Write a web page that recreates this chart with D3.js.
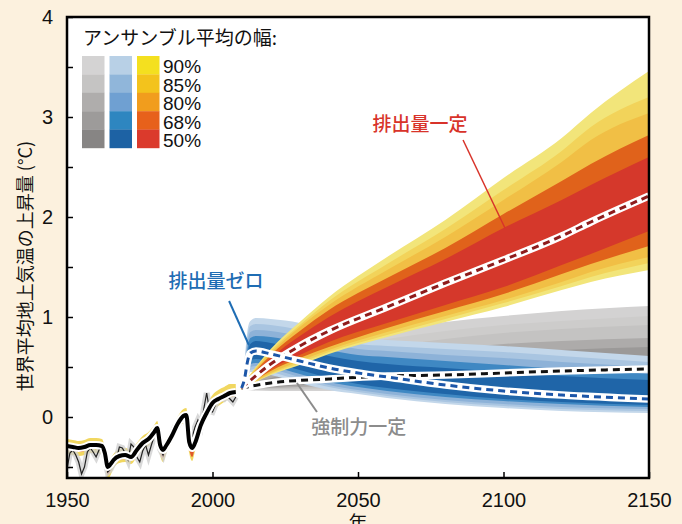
<!DOCTYPE html>
<html>
<head>
<meta charset="utf-8">
<title>世界平均地上気温の上昇量</title>
<script src="https://d3js.org/d3.v7.min.js"></script>
<style>
  body { margin: 0; background: #fcf1de; }
  text { font-family: "Liberation Sans", Arial, "Noto Sans CJK JP", sans-serif; }
  .jp { font-family: "Noto Sans CJK JP", sans-serif; }
</style>
</head>
<body>
<div id="chart"></div>
<script>
// ---- data ----
const xTicks = [1950, 2000, 2050, 2100, 2150];
const yTicks = [-0.5, 0, 0.5, 1, 1.5, 2, 2.5, 3, 3.5, 4];
const levels = ["90%", "85%", "80%", "68%", "50%"];

// historical ensemble mean and its spread
const histYears = [1950,1952,1954,1956,1958,1960,1962,1963,1964,1965,1966,1968,1970,1972,1974,1976,1978,1980,1981,1982,1983,1984,1986,1988,1990,1991,1992,1993,1994,1996,1998,2000,2002,2004,2006,2008];
const histMean  = [-0.29,-0.30,-0.31,-0.30,-0.28,-0.28,-0.29,-0.36,-0.50,-0.47,-0.43,-0.39,-0.38,-0.40,-0.33,-0.26,-0.22,-0.15,-0.11,-0.28,-0.33,-0.29,-0.19,-0.07,0.01,0.02,-0.25,-0.31,-0.26,-0.08,0.04,0.14,0.18,0.21,0.24,0.25];
const histHi    = [-0.22,-0.23,-0.24,-0.23,-0.21,-0.21,-0.22,-0.30,-0.44,-0.41,-0.37,-0.32,-0.31,-0.33,-0.26,-0.19,-0.15,-0.08,-0.04,-0.21,-0.26,-0.22,-0.12,0.00,0.08,0.09,-0.18,-0.24,-0.19,0.00,0.12,0.22,0.27,0.30,0.33,0.33];
const histLo    = [-0.37,-0.38,-0.39,-0.38,-0.36,-0.36,-0.37,-0.45,-0.62,-0.58,-0.51,-0.46,-0.45,-0.47,-0.40,-0.33,-0.29,-0.22,-0.18,-0.38,-0.45,-0.37,-0.26,-0.14,-0.06,-0.05,-0.36,-0.44,-0.34,-0.15,-0.03,0.07,0.11,0.15,0.19,0.21];
const histRedLo = [-0.33,-0.34,-0.35,-0.34,-0.32,-0.32,-0.33,-0.41,-0.58,-0.53,-0.47,-0.43,-0.42,-0.44,-0.37,-0.30,-0.26,-0.19,-0.15,-0.34,-0.41,-0.33,-0.23,-0.11,-0.03,-0.02,-0.32,-0.40,-0.30,-0.12,0.00,0.10,0.14,0.17,0.20,0.21];

// observations (annual)
const obsYears = d3.range(1950, 2009);
const obsVals = [-0.52,-0.36,-0.33,-0.38,-0.45,-0.57,-0.50,-0.35,-0.31,-0.35,-0.40,-0.33,-0.31,-0.40,-0.55,-0.52,-0.46,-0.42,-0.30,-0.31,-0.36,-0.43,-0.27,-0.30,-0.40,-0.45,-0.34,-0.28,-0.38,-0.28,-0.19,-0.15,-0.32,-0.38,-0.28,-0.25,-0.18,-0.10,-0.09,-0.02,0.00,-0.06,-0.22,-0.20,-0.10,-0.03,-0.09,0.08,0.24,0.06,0.05,0.12,0.17,0.19,0.18,0.21,0.18,0.15,0.20];

// constant emissions (排出量一定)
const emitYears = [2010, 2020, 2030, 2040, 2060, 2080, 2100, 2120, 2130, 2150];
const emitMean  = [0.29, 0.53, 0.71, 0.86, 1.10, 1.34, 1.57, 1.81, 1.95, 2.21];
const emit90 = [[0.27,0.31],[0.42,0.68],[0.52,0.95],[0.63,1.20],[0.80,1.60],[0.95,1.97],[1.10,2.39],[1.27,2.79],[1.35,3.04],[1.47,3.46]];
const emit85 = [[0.27,0.31],[0.43,0.66],[0.54,0.92],[0.65,1.16],[0.82,1.53],[0.98,1.88],[1.14,2.27],[1.31,2.66],[1.40,2.90],[1.54,3.20]];
const emit80 = [[0.28,0.31],[0.44,0.64],[0.56,0.90],[0.67,1.12],[0.85,1.47],[1.01,1.80],[1.17,2.17],[1.35,2.55],[1.45,2.77],[1.60,3.04]];
const emit68 = [[0.28,0.30],[0.46,0.62],[0.59,0.86],[0.70,1.07],[0.89,1.39],[1.06,1.69],[1.23,2.03],[1.43,2.36],[1.53,2.53],[1.71,2.82]];
const emit50 = [[0.28,0.30],[0.48,0.59],[0.62,0.81],[0.75,1.00],[0.94,1.30],[1.12,1.58],[1.30,1.89],[1.52,2.17],[1.63,2.32],[1.86,2.60]];

// zero emissions (排出量ゼロ)
const zeroYears = [2010, 2011, 2012, 2013, 2015, 2020, 2030, 2040, 2050, 2060, 2080, 2100, 2120, 2150];
const zeroMean  = [0.29, 0.38, 0.55, 0.64, 0.66, 0.63, 0.56, 0.49, 0.44, 0.40, 0.32, 0.26, 0.22, 0.18];
const zero90 = [[0.27,0.31],[0.29,0.56],[0.38,0.86],[0.45,0.96],[0.45,0.99],[0.42,0.98],[0.34,0.94],[0.27,0.85],[0.23,0.79],[0.19,0.77],[0.13,0.74],[0.09,0.71],[0.06,0.67],[0.04,0.61]];
const zero85 = [[0.27,0.31],[0.30,0.53],[0.40,0.80],[0.47,0.91],[0.48,0.93],[0.45,0.92],[0.37,0.87],[0.30,0.79],[0.25,0.73],[0.21,0.71],[0.15,0.68],[0.11,0.65],[0.08,0.61],[0.06,0.55]];
const zero80 = [[0.28,0.31],[0.31,0.50],[0.42,0.74],[0.50,0.85],[0.51,0.87],[0.48,0.86],[0.40,0.81],[0.32,0.74],[0.27,0.68],[0.23,0.66],[0.17,0.62],[0.13,0.59],[0.10,0.55],[0.08,0.50]];
const zero68 = [[0.28,0.30],[0.32,0.47],[0.45,0.68],[0.53,0.79],[0.54,0.81],[0.51,0.80],[0.43,0.74],[0.35,0.67],[0.30,0.62],[0.26,0.60],[0.20,0.56],[0.16,0.52],[0.13,0.48],[0.10,0.43]];
const zero50 = [[0.28,0.30],[0.34,0.44],[0.48,0.63],[0.57,0.73],[0.58,0.76],[0.55,0.74],[0.47,0.68],[0.39,0.61],[0.33,0.56],[0.29,0.53],[0.23,0.49],[0.18,0.45],[0.15,0.41],[0.12,0.37]];

// constant forcing (強制力一定)
const forceYears = [2010, 2020, 2040, 2060, 2080, 2100, 2120, 2150];
const forceMean  = [0.29, 0.34, 0.38, 0.41, 0.42, 0.44, 0.46, 0.48];
const force90 = [[0.27,0.31],[0.26,0.55],[0.26,0.76],[0.28,0.87],[0.29,0.95],[0.30,1.01],[0.31,1.06],[0.32,1.11]];
const force85 = [[0.27,0.31],[0.27,0.50],[0.28,0.68],[0.30,0.78],[0.31,0.86],[0.32,0.92],[0.33,0.96],[0.34,1.01]];
const force80 = [[0.28,0.31],[0.28,0.46],[0.29,0.61],[0.31,0.70],[0.33,0.78],[0.34,0.84],[0.35,0.88],[0.36,0.92]];
const force68 = [[0.28,0.30],[0.29,0.42],[0.31,0.54],[0.33,0.62],[0.35,0.68],[0.36,0.73],[0.37,0.76],[0.38,0.79]];
const force50 = [[0.28,0.30],[0.30,0.39],[0.33,0.48],[0.35,0.55],[0.37,0.60],[0.38,0.64],[0.39,0.67],[0.40,0.70]];

// ---- colours ----
const greyBand   = ["#d3d2d2", "#cdcccb", "#c4c3c2", "#adabaa", "#9b9998"];
const blueBand   = ["#c3d7ea", "#a9c5e1", "#8db2d8", "#3f88c3", "#1f65a8"];
const redBand    = ["#f2e57a", "#f2d35a", "#f1bf45", "#e0621b", "#d5382b"];
const greyLegend = ["#d4d3d3", "#c5c4c3", "#afadac", "#9d9b9a", "#878584"];
const blueLegend = ["#b8d0e6", "#90b6da", "#6fa0d2", "#2e86c0", "#1d62a4"];
const redLegend  = ["#f4e01f", "#f3c31c", "#f19d1d", "#e7611b", "#db3a2c"];

const margin = {top: 17, right: 33, bottom: 46, left: 67};
const width = 682 - margin.left - margin.right;
const height = 524 - margin.top - margin.bottom;

const svg = d3.select("#chart").append("svg")
    .attr("width", 682)
    .attr("height", 524);

const g = svg.append("g")
    .attr("transform", "translate(" + margin.left + "," + margin.top + ")");

const x = d3.scaleLinear().domain([1950, 2150]).range([0, width]);
const y = d3.scaleLinear().domain([-0.61, 4]).range([height, 0]);

g.append("rect").attr("width", width).attr("height", height).attr("fill", "#fff");

svg.append("defs").append("clipPath").attr("id", "clip")
  .append("rect").attr("width", width).attr("height", height);

const plot = g.append("g").attr("clip-path", "url(#clip)");

function drawBands(yrs, bands, colors) {
  bands.forEach((band, i) => {
    const area = d3.area()
        .x((d, j) => x(yrs[j]))
        .y0(d => y(d[0]))
        .y1(d => y(d[1]))
        .curve(d3.curveMonotoneX);
    plot.append("path").datum(band).attr("d", area).attr("fill", colors[i]);
  });
}

function lineOf(yrs) {
  return d3.line().x((d, i) => x(yrs[i])).y(d => y(d)).curve(d3.curveMonotoneX);
}

function drawDashed(yrs, vals, color) {
  const line = lineOf(yrs);
  plot.append("path").datum(vals).attr("d", line)
      .attr("fill", "none").attr("stroke", "#fff").attr("stroke-width", 7.5);
  plot.append("path").datum(vals).attr("d", line)
      .attr("fill", "none").attr("stroke", color).attr("stroke-width", 3)
      .attr("stroke-dasharray", "7,5");
}

// historical spread
const histArea = (lo, hi) => d3.area()
    .x((d, i) => x(histYears[i]))
    .y0((d, i) => y(lo[i]))
    .y1((d, i) => y(hi[i]))
    .curve(d3.curveMonotoneX);
plot.append("path").datum(histYears).attr("d", histArea(histLo, histHi)).attr("fill", "#f1d760");
plot.append("path").datum(histYears).attr("d", histArea(histRedLo, histMean)).attr("fill", "#e0582a");

// observations with grey spread
const obsLine = d3.line().x((d, i) => x(obsYears[i])).y(d => y(d));
plot.append("path").datum(obsVals).attr("d", obsLine)
    .attr("fill", "none").attr("stroke", "#cfcfcf").attr("stroke-width", 6).attr("stroke-opacity", 0.8);
plot.append("path").datum(obsVals).attr("d", obsLine)
    .attr("fill", "none").attr("stroke", "#222").attr("stroke-width", 1.2);

// historical mean
plot.append("path").datum(histMean).attr("d", lineOf(histYears))
    .attr("fill", "none").attr("stroke", "#fff").attr("stroke-width", 8);
plot.append("path").datum(histMean).attr("d", lineOf(histYears))
    .attr("fill", "none").attr("stroke", "#000").attr("stroke-width", 4);

// scenario spreads
drawBands(forceYears, [force90, force85, force80, force68, force50], greyBand);
drawBands(zeroYears, [zero90, zero85, zero80, zero68, zero50], blueBand);
drawBands(emitYears, [emit90, emit85, emit80, emit68, emit50], redBand);

// scenario means
drawDashed(forceYears, forceMean, "#111");
drawDashed(emitYears, emitMean, "#8e1c1c");
drawDashed(zeroYears, zeroMean, "#1c56a8");

// annotations (placed in data coordinates)
const notes = [
  {text: "排出量一定", color: "#d8332a", tx: 2071.3, ty: 2.86, x1: 2086.1, y1: 2.77, x2: 2100.5, y2: 1.89, w: 1.5},
  {text: "排出量ゼロ", color: "#1f6db4", tx: 2001.2, ty: 1.29, x1: 2005.7, y1: 1.16, x2: 2012.5, y2: 0.72, w: 2},
  {text: "強制力一定", color: "#8c8c8c", tx: 2050.3, ty: -0.17, x1: 2029.0, y1: 0.34, x2: 2035.9, y2: 0.05, w: 2}
];
notes.forEach(n => {
  g.append("line")
      .attr("x1", x(n.x1)).attr("y1", y(n.y1))
      .attr("x2", x(n.x2)).attr("y2", y(n.y2))
      .attr("stroke", n.color).attr("stroke-width", n.w);
  g.append("text").attr("class", "jp")
      .attr("x", x(n.tx)).attr("y", y(n.ty))
      .attr("text-anchor", "middle")
      .attr("font-size", 19).attr("font-weight", 500)
      .attr("fill", n.color)
      .text(n.text);
});

// axes
const yAxis = g.append("g")
    .call(d3.axisLeft(y).tickValues(yTicks).tickSize(-6).tickPadding(14)
      .tickFormat(d => Number.isInteger(d) ? d : ""));
const xAxis = g.append("g")
    .attr("transform", "translate(0," + height + ")")
    .call(d3.axisBottom(x).tickValues(xTicks).tickSize(-6).tickPadding(15).tickFormat(d3.format("d")));
[xAxis, yAxis].forEach(a => {
  a.select(".domain").remove();
  a.selectAll("line").attr("stroke", "#000").attr("stroke-width", 1.5);
  a.selectAll("text").attr("font-size", 20).attr("fill", "#111")
      .attr("font-family", "'Liberation Sans', Arial, sans-serif");
});

g.append("rect").attr("width", width).attr("height", height)
    .attr("fill", "none").attr("stroke", "#000").attr("stroke-width", 2.5);

// axis titles
svg.append("text").attr("class", "jp")
    .attr("transform", "translate(32,266) rotate(-90)")
    .attr("text-anchor", "middle")
    .attr("font-size", 18).attr("fill", "#111")
    .text("世界平均地上気温の上昇量 (°C)");
svg.append("text").attr("class", "jp")
    .attr("x", margin.left + x(2050)).attr("y", 530)
    .attr("text-anchor", "middle")
    .attr("font-size", 19).attr("fill", "#111")
    .text("年");

// legend
const legend = g.append("g").attr("transform", "translate(15,0)");
legend.append("text").attr("class", "jp")
    .attr("x", 1).attr("y", 28)
    .attr("font-size", 19).attr("fill", "#111")
    .text("アンサンブル平均の幅:");
[greyLegend, blueLegend, redLegend].forEach((cols, c) => {
  legend.selectAll(".sw" + c)
    .data(cols)
    .join("rect")
      .attr("x", c * 27.5)
      .attr("y", (d, i) => 39 + i * 18.4)
      .attr("width", 22.5)
      .attr("height", 18.6)
      .attr("fill", d => d);
});
legend.selectAll(".lab")
  .data(levels)
  .join("text")
    .attr("x", 81)
    .attr("y", (d, i) => 56 + i * 18.6)
    .attr("font-size", 19)
    .attr("fill", "#111")
    .text(d => d);
</script>
</body>
</html>
